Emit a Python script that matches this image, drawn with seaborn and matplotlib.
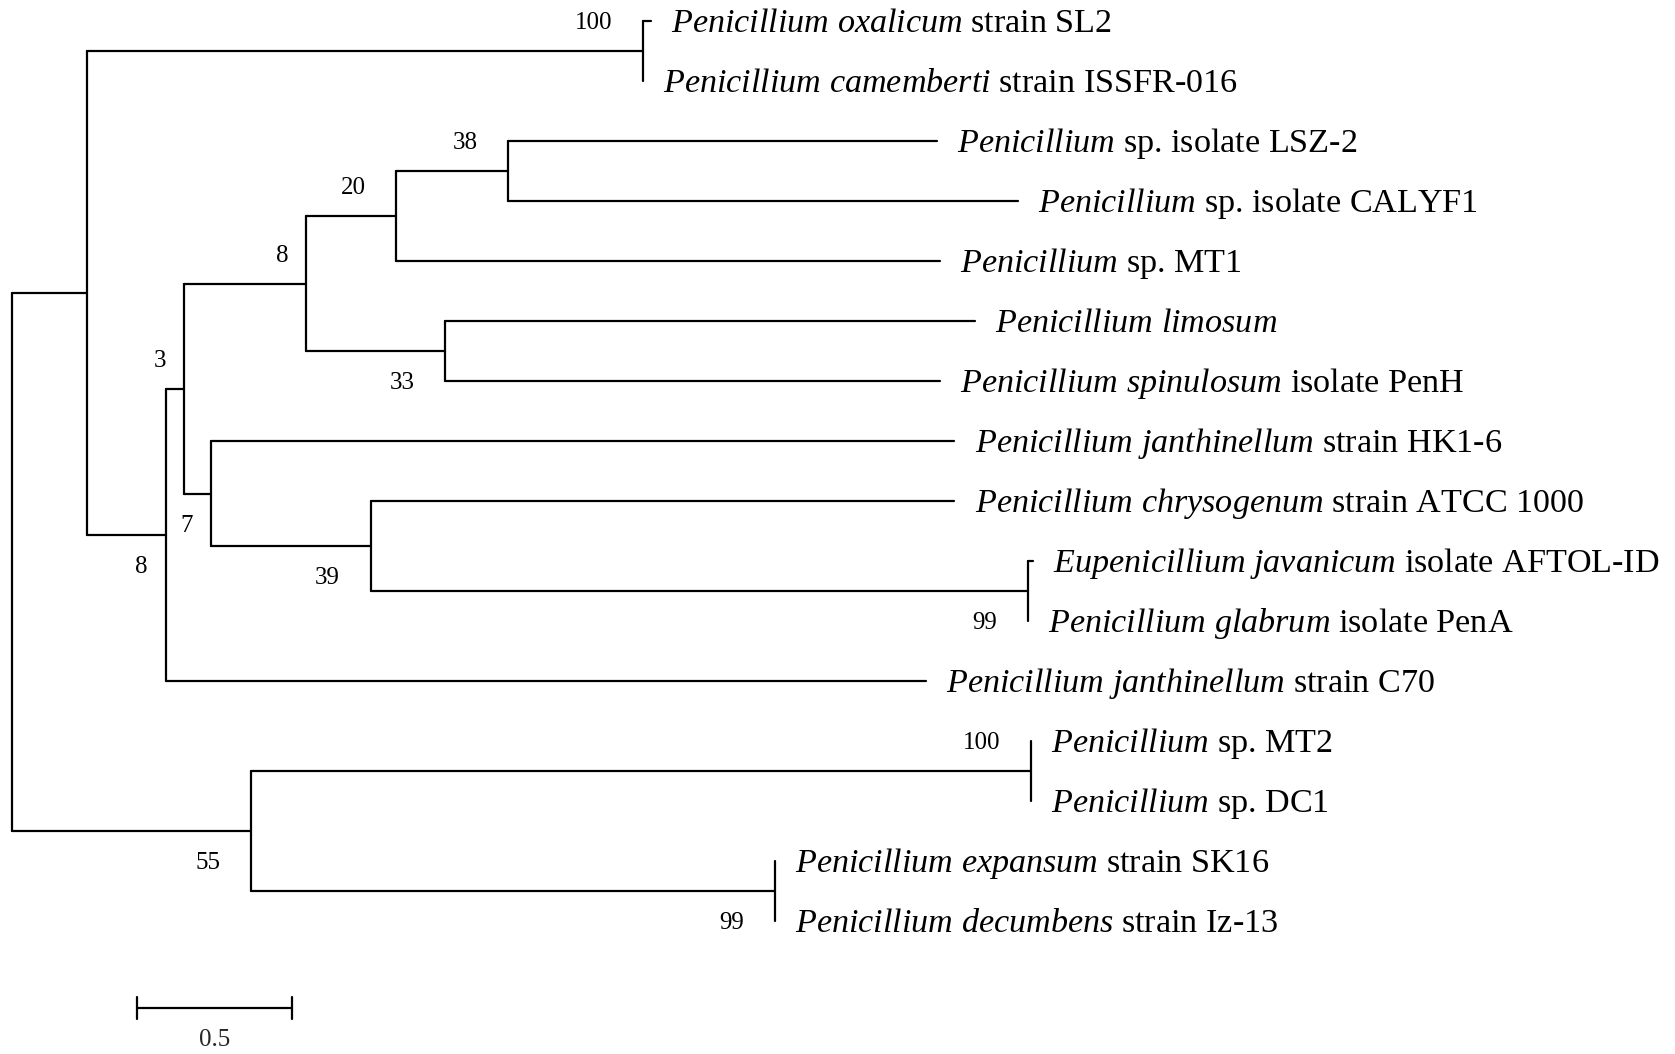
import matplotlib
matplotlib.use("Agg")
import matplotlib.pyplot as plt
import seaborn as sns
import pandas as pd

# ---------------- data ----------------
node_ids = ["R", "A", "OX", "L0", "L1", "B", "N3", "N8", "N20", "N38", "L2", "L3",
            "L4", "N33", "L5", "L6", "N7", "L7", "N39", "L8", "N99a", "L9", "L10",
            "L11", "N55", "N100", "L12", "L13", "N99c", "L14", "L15"]
parent_ids = ["", "R", "A", "OX", "OX", "A", "B", "N3", "N8", "N20", "N38", "N38",
              "N20", "N8", "N33", "N33", "N3", "N7", "N7", "N39", "N39", "N99a", "N99a",
              "B", "R", "N55", "N100", "N100", "N55", "N99c", "N99c"]
branch_lengths = [0.0, 0.242, 1.793, 0.026, 0.0, 0.254, 0.059, 0.394, 0.291, 0.360, 1.384, 1.645,
                  1.754, 0.448, 1.709, 1.597, 0.086, 2.399, 0.516, 1.883, 2.119, 0.017, 0.0,
                  2.452, 0.771, 2.517, 0.0, 0.0, 1.689, 0.0, 0.0]

support_nodes = ["OX", "B", "N3", "N8", "N20", "N38", "N33", "N7", "N39", "N99a", "N55", "N100", "N99c"]
support_values = [100, 8, 3, 8, 20, 38, 33, 7, 39, 99, 55, 100, 99]

leaf_italic = ["Penicillium oxalicum", "Penicillium camemberti", "Penicillium", "Penicillium",
               "Penicillium", "Penicillium limosum", "Penicillium spinulosum",
               "Penicillium janthinellum", "Penicillium chrysogenum", "Eupenicillium javanicum",
               "Penicillium glabrum", "Penicillium janthinellum", "Penicillium", "Penicillium",
               "Penicillium expansum", "Penicillium decumbens"]
leaf_roman = ["strain SL2", "strain ISSFR-016", "sp. isolate LSZ-2", "sp. isolate CALYF1",
              "sp. MT1", "", "isolate PenH", "strain HK1-6", "strain ATCC 1000",
              "isolate AFTOL-ID", "isolate PenA", "strain C70", "sp. MT2", "sp. DC1",
              "strain SK16", "strain Iz-13"]

scale_length = 0.5
scale_label = "0.5"

# ---------------- style ----------------
sns.set_theme(style="white")
plt.rcParams["font.family"] = ["Liberation Serif", "DejaVu Serif"]
plt.rcParams["mathtext.fontset"] = "custom"
plt.rcParams["mathtext.rm"] = "Liberation Serif"
plt.rcParams["mathtext.it"] = "Liberation Serif:italic"

W, H, DPI = 1675, 1054, 100
fig = plt.figure(figsize=(W / DPI, H / DPI), dpi=DPI)
fig.patch.set_facecolor("white")
ax = fig.add_axes([0, 0, 1, 1])
ax.set_facecolor("white")

# ---------------- tree layout ----------------
children = {n: [] for n in node_ids}
parent_of = {}
for n, p in zip(node_ids, parent_ids):
    if p:
        children[p].append(n)
        parent_of[n] = p
bl = dict(zip(node_ids, branch_lengths))
xpos, ypos, leaf_order = {}, {}, []


def place(n, x0):
    xpos[n] = x0 + bl[n]
    if not children[n]:
        ypos[n] = len(leaf_order)
        leaf_order.append(n)
    else:
        for c in children[n]:
            place(c, xpos[n])
        ypos[n] = (ypos[children[n][0]] + ypos[children[n][-1]]) / 2.0


place("R", 0.0)

rows, seg = [], 0
for n, p in zip(node_ids, parent_ids):
    if p and bl[n] > 0:
        rows += [(seg, xpos[p], ypos[n]), (seg, xpos[n], ypos[n])]
        seg += 1
    if children[n]:
        c0, c1 = children[n][0], children[n][-1]
        rows += [(seg, xpos[n], ypos[c0]), (seg, xpos[n], ypos[c1])]
        seg += 1
seg_df = pd.DataFrame(rows, columns=["seg", "x", "y"])

LW = 1.6
sns.lineplot(data=seg_df, x="x", y="y", units="seg", estimator=None, sort=False,
             color="black", linewidth=LW, ax=ax, legend=False)

# ---------------- labels ----------------
LEAF_FS = 24.6
for i, n in enumerate(leaf_order):
    s = " ".join(r"$\mathit{%s}$" % w for w in leaf_italic[i].split())
    if leaf_roman[i]:
        s += " " + leaf_roman[i]
    ax.annotate(s, (xpos[n], ypos[n]), xytext=(14.5, -0.331 * LEAF_FS),
                textcoords="offset points", ha="left", va="baseline",
                fontsize=LEAF_FS, color="black")

BS_FS = 18
for n, v in zip(support_nodes, support_values):
    p = parent_of[n]
    above = children[p][0] == n
    yl = ypos[n] - 0.5 if above else ypos[n] + 0.5
    gap = 22 if v >= 10 else 13
    ax.annotate(str(v), (xpos[n], yl), xytext=(-gap, -0.338 * BS_FS),
                textcoords="offset points", ha="right", va="baseline",
                fontsize=BS_FS, color="black")

# ---------------- scale bar ----------------
sb_x0, sb_y, sb_tick = 0.4026, 16.45, 0.18
sb_df = pd.DataFrame({
    "seg": [0, 0, 1, 1, 2, 2],
    "x": [sb_x0, sb_x0 + scale_length, sb_x0, sb_x0, sb_x0 + scale_length, sb_x0 + scale_length],
    "y": [sb_y, sb_y, sb_y - sb_tick, sb_y + sb_tick, sb_y - sb_tick, sb_y + sb_tick],
})
sns.lineplot(data=sb_df, x="x", y="y", units="seg", estimator=None, sort=False,
             color="black", linewidth=LW, ax=ax, legend=False)
ax.annotate(scale_label, (sb_x0 + scale_length / 2, sb_y + 0.5), xytext=(0, -0.338 * BS_FS),
            textcoords="offset points", ha="center", va="baseline", fontsize=BS_FS)

# ---------------- axes mapping ----------------
PX_X0, PX_UNIT, PX_Y0, PX_ROW = 12, 310, 21, 60
ax.set_xlim(-PX_X0 / PX_UNIT, (W - PX_X0) / PX_UNIT)
ax.set_ylim((H - PX_Y0) / PX_ROW, -PX_Y0 / PX_ROW)
ax.set_axis_off()

fig.savefig("out.png", dpi=DPI, facecolor="white")
